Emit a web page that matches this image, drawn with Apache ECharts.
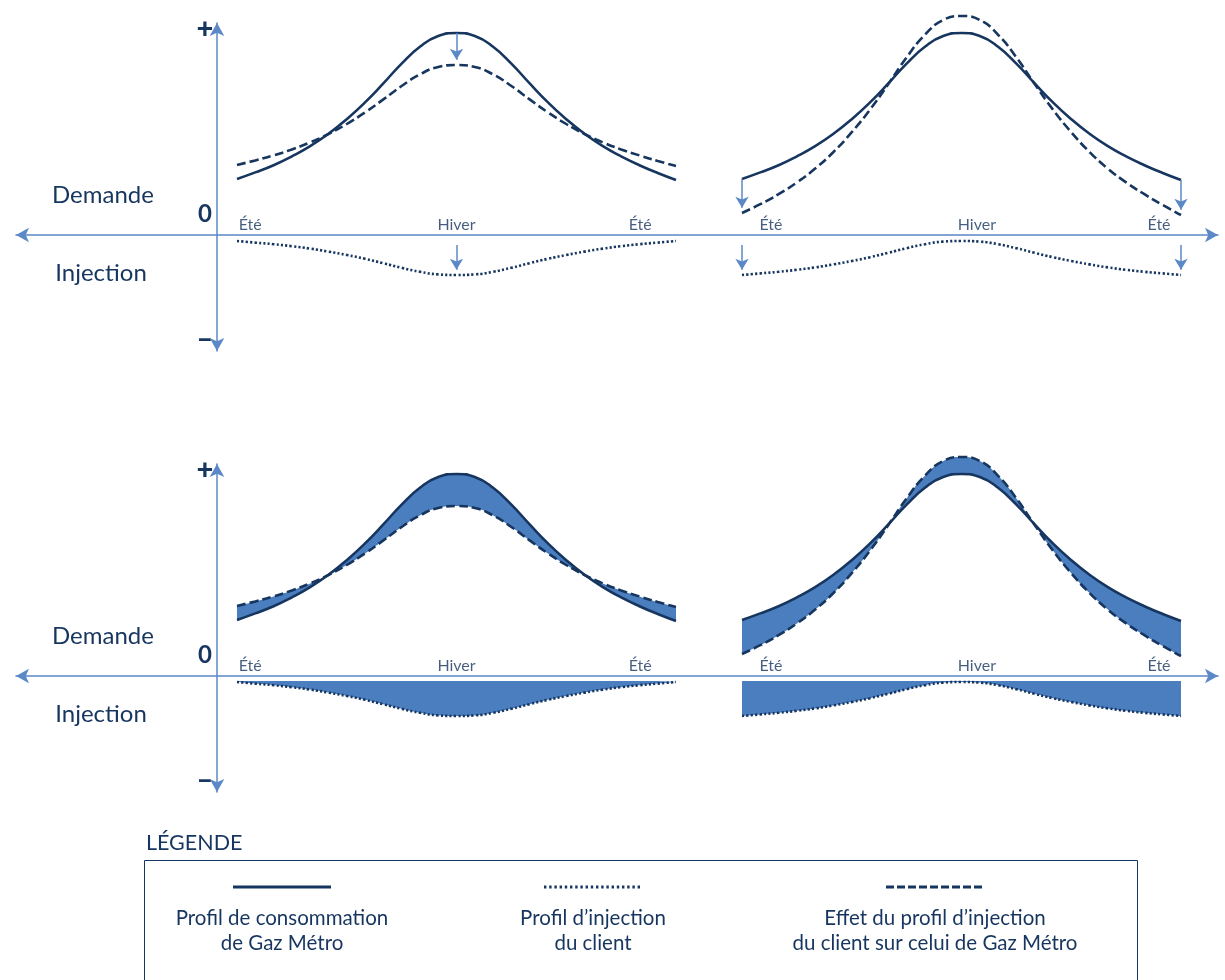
<!DOCTYPE html>
<html>
<head>
<meta charset="utf-8">
<script src="https://cdn.jsdelivr.net/npm/echarts@6/dist/echarts.min.js"></script>
<style>html,body{margin:0;padding:0;background:#fff}#c{width:1225px;height:980px}</style>
</head>
<body>
<div id="c"></div>
<script>
// ---------- DATA ----------
// x: position within the year, Été (0) -> Hiver (6) -> Été (12)
const seasonX = [0,0.5,1,1.5,2,2.5,3,3.5,4,4.5,5,5.5,6,6.5,7,7.5,8,8.5,9,9.5,10,10.5,11,11.5,12];
// Gaz Métro consumption profile (solid)
const consumption = [28,31.3,34.9,39.3,44.4,50.6,57.9,66.3,75.8,85.7,94.1,99.5,101,99.5,94.1,85.7,75.8,66.3,57.9,50.6,44.4,39.3,34.9,31,27.5];
// Case A (left): client injection profile (dotted) and its effect (dashed)
const injectionA = [-3,-3.8,-4.6,-5.6,-6.8,-8.3,-10,-11.9,-14.1,-16.4,-18.4,-19.7,-20,-19.7,-18.4,-16.4,-14.1,-11.9,-10,-8.3,-6.8,-5.6,-4.6,-3.8,-3];
const effectA = [35,37.3,39.8,42.8,46.3,50.5,55.5,61.3,67.8,74.5,80.3,84,85,84,80.3,74.5,67.8,61.3,55.5,50.5,46.3,42.8,39.8,37,34.5];
// Case B (right)
const injectionB = [-20,-19.2,-18.4,-17.4,-16.2,-14.7,-13,-11.1,-8.9,-6.6,-4.6,-3.3,-3,-3.3,-4.6,-6.6,-8.9,-11.1,-13,-14.7,-16.2,-17.4,-18.4,-19.2,-20];
const effectB = [11,15.4,20.4,26.3,33.2,41.5,51.4,62.7,75.5,88.8,100.1,107.5,109.5,107.5,100.1,88.8,75.5,62.7,51.4,41.5,33.2,26.3,20.4,15,10];
// level the injection shading is filled up to, and top of the injection arrows
const injectionBase = -2.5;
const injArrowTop = -5;
// tick / axis labels
const seasonLabels = ['Été','Hiver','Été'];
const seasonPosA = [0.36, 6, 11.02];
const seasonPosB = [0.79, 6.42, 11.4];
const signLabels = ['+','0','–'];
const sideLabels = ['Demande','Injection'];
const legendTitle = 'LÉGENDE';
const legendItems = [
  ['Profil de consommation','de Gaz Métro'],
  ['Profil d’injection','du client'],
  ['Effet du profil d’injection','du client sur celui de Gaz Métro']
];

// ---------- STYLE ----------
const NAVY = '#17365f';
const AXIS = '#5b88c6';
const FILL = '#4a7ebf';
const FONT = 'Lato, "Liberation Sans", sans-serif';
const Y_MIN = -58, Y_MAX = 106;
const rowTops = [23, 464];
const rowH = 328;
const arrowInset = 2.6; // half arrow head, in data units

const cats = seasonX.map(String);
const catOf = (i) => cats[i];
const solidStyle = {color: NAVY, width: 2.6, type: 'solid'};
const dashStyle = {color: NAVY, width: 2.6, type: [9, 4]};
const dotStyle = {color: NAVY, width: 2.6, type: [2.2, 2.2]};

const grids = [], xAxes = [], yAxes = [], series = [];

function arrowML(segs) {
  return {
    silent: true, animation: false,
    symbol: ['none', 'arrow'], symbolSize: [10, 11],
    lineStyle: {color: AXIS, width: 1.5, type: 'solid'},
    itemStyle: {color: AXIS},
    label: {show: false}, emphasis: {disabled: true},
    data: segs.map(s => [{coord: [catOf(s[0]), s[1]]}, {coord: [catOf(s[0]), s[2] + arrowInset]}])
  };
}

// panel grid: one category x axis (curves), one value x axis (season labels), one y axis
function addPanel(left, top) {
  grids.push({left: left, width: 439, top: top, height: rowH});
  const g = grids.length - 1;
  const cx = xAxes.length;
  xAxes.push({gridIndex: g, type: 'category', data: cats, boundaryGap: false, show: false});
  xAxes.push({gridIndex: g, type: 'value', min: 0, max: 12, show: false, position: 'top'});
  const y = yAxes.length;
  yAxes.push({gridIndex: g, type: 'value', min: Y_MIN, max: Y_MAX, show: false});
  return {cx: cx, vx: cx + 1, y: y};
}

function line(p, data, style, extra) {
  return Object.assign({
    type: 'line', xAxisIndex: p.cx, yAxisIndex: p.y, data: data,
    smooth: true, showSymbol: false, symbol: 'none', lineStyle: style, clip: false,
    silent: true, animation: false, z: 3
  }, extra || {});
}

function labels(p, pos) {
  return {
    type: 'scatter', xAxisIndex: p.vx, yAxisIndex: p.y, symbolSize: 0, silent: true, animation: false,
    data: seasonLabels.map((n, i) => ({name: n, value: [pos[i], 0]})),
    label: {show: true, position: 'top', distance: 2, formatter: '{b}', color: NAVY, fontSize: 16, fontFamily: FONT}
  };
}

const axisLineStyle = {lineStyle: {color: AXIS, width: 1.5}, symbol: ['arrow', 'arrow'], symbolSize: [11, 13], onZero: true};

rowTops.forEach((top, r) => {
  // row axes (full width, crossing at x=0)
  grids.push({left: 16, right: 7, top: top, height: rowH});
  const g = grids.length - 1;
  xAxes.push({gridIndex: g, type: 'value', min: -201, max: 1001, axisLine: axisLineStyle,
    axisTick: {show: false}, axisLabel: {show: false}, splitLine: {show: false}});
  yAxes.push({gridIndex: g, type: 'value', min: Y_MIN, max: Y_MAX, axisLine: axisLineStyle,
    axisTick: {show: false}, axisLabel: {show: false}, splitLine: {show: false}});

  const pA = addPanel(237, top);
  const pB = addPanel(742, top);
  series.push(labels(pA, seasonPosA), labels(pB, seasonPosB));

  if (r === 0) {
    series.push(line(pA, consumption, solidStyle, {markLine: arrowML([[12, consumption[12], effectA[12]]])}));
    series.push(line(pA, effectA, dashStyle));
    series.push(line(pA, injectionA, dotStyle, {markLine: arrowML([[12, injArrowTop, injectionA[12]]])}));
    series.push(line(pB, consumption, solidStyle, {markLine: arrowML([[0, consumption[0], effectB[0]], [24, consumption[24], effectB[24]]])}));
    series.push(line(pB, effectB, dashStyle));
    series.push(line(pB, injectionB, dotStyle, {markLine: arrowML([[0, injArrowTop, injectionB[0]], [24, injArrowTop, injectionB[24]]])}));
  } else {
    [[pA, effectA, injectionA, 'A'], [pB, effectB, injectionB, 'B']].forEach(([p, eff, inj, key]) => {
      series.push(line(p, consumption, solidStyle, {stack: key, stackStrategy: 'all', z: 4}));
      series.push(line(p, eff.map((v, i) => v - consumption[i]), dashStyle,
        {stack: key, stackStrategy: 'all', z: 3, areaStyle: {color: FILL, opacity: 1}}));
      series.push(line(p, inj, dotStyle, {z: 3, areaStyle: {color: FILL, opacity: 1, origin: injectionBase}}));
    });
  }
});

// ---------- text & legend (graphic) ----------
const graphic = [];
function txt(x, y, s, size, opts) {
  graphic.push({type: 'text', x: x, y: y, silent: true,
    style: Object.assign({text: s, fill: NAVY, font: size + 'px ' + FONT, textAlign: 'center', textVerticalAlign: 'middle'}, (opts || {}))});
}
rowTops.forEach((top, r) => {
  const dy = r === 0 ? 0 : 441;
  txt(205, 29 + dy, signLabels[0], 28, {font: '900 29px ' + FONT});
  txt(205, 214 + dy, signLabels[1], 24, {font: 'bold 24px ' + FONT});
  txt(205, 339 + dy, signLabels[2], 28, {font: '900 29px ' + FONT});
  txt(103, 195 + dy, sideLabels[0], 24);
  txt(101, 273 + dy, sideLabels[1], 24);
});
txt(146, 843, legendTitle, 21.5, {textAlign: 'left'});
graphic.push({type: 'rect', silent: true, shape: {x: 144.5, y: 860.5, width: 993, height: 200},
  style: {fill: 'none', stroke: NAVY, lineWidth: 1}});
const legendCx = [282, 593, 935];
const legendDash = [null, [2.4, 2.8], [8, 3]];
legendCx.forEach((cx, i) => {
  graphic.push({type: 'line', silent: true, shape: {x1: cx - 49, y1: 887, x2: cx + 49, y2: 887},
    style: {stroke: NAVY, lineWidth: 3, lineDash: legendDash[i]}});
  txt(cx, 918, legendItems[i][0], 20.5);
  txt(cx, 943, legendItems[i][1], 20.5);
});

const chart = echarts.init(document.getElementById('c'), null, {renderer: 'canvas'});
chart.setOption({
  backgroundColor: '#fff',
  animation: false,
  grid: grids, xAxis: xAxes, yAxis: yAxes, series: series,
  graphic: graphic
});
</script>
</body>
</html>
